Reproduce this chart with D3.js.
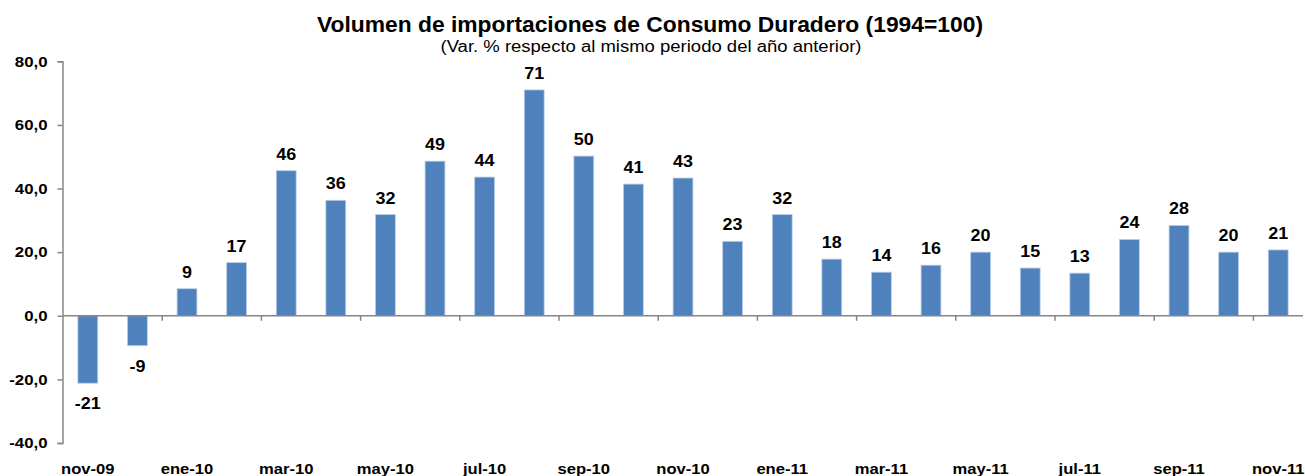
<!DOCTYPE html>
<html>
<head>
<meta charset="utf-8">
<script src="https://cdn.jsdelivr.net/npm/d3@7"></script>
<style>
  body { margin: 0; background: #fff; }
  text { font-family: "Liberation Sans", Arial, sans-serif; }
</style>
</head>
<body>
<svg id="chart"></svg>
<script>
// meses (nov-09 .. nov-11)
const months = ['nov-09','dic-09','ene-10','feb-10','mar-10','abr-10','may-10','jun-10','jul-10','ago-10',
    'sep-10','oct-10','nov-10','dic-10','ene-11','feb-11','mar-11','abr-11','may-11','jun-11',
    'jul-11','ago-11','sep-11','oct-11','nov-11']
// var. % interanual
const values = [-21.2, -9.4, 8.5, 16.7, 45.6, 36.3, 31.8, 48.6, 43.6, 71.0,
    50.2, 41.4, 43.3, 23.4, 31.8, 17.8, 13.7, 15.9, 20.0, 15.0,
    13.4, 24.0, 28.4, 20.0, 20.7]
const yTicks = [-40, -20, 0, 20, 40, 60, 80]

const width = 1305, height = 476
const plotLeft = 63, plotRight = 1303, plotTop = 61.3, plotBottom = 443

let svg = d3.select('#chart').attr('width', width).attr('height', height)

let x = d3.scaleBand()
    .domain(months)
    .range([plotLeft, plotRight])
    .paddingInner(0.6)
    .paddingOuter(0.3)

let y = d3.scaleLinear()
    .domain([-40, 80])
    .range([plotBottom, plotTop])

const axisColor = '#868686'

// el original esta un poco estirado en horizontal
function stretch(sel, k) {
    sel.each(function () {
        let w = this.getComputedTextLength()
        d3.select(this).attr('textLength', w * k).attr('lengthAdjust', 'spacingAndGlyphs')
    })
}

// titulo
svg.append('text')
    .attr('x', 650).attr('y', 32)
    .attr('text-anchor', 'middle')
    .style('font-weight', 'bold')
    .style('font-size', '22px')
    .attr('textLength', 666).attr('lengthAdjust', 'spacingAndGlyphs')
    .text('Volumen de importaciones de Consumo Duradero (1994=100)')

svg.append('text')
    .attr('x', 651).attr('y', 51.5)
    .attr('text-anchor', 'middle')
    .style('font-size', '16px')
    .attr('textLength', 421).attr('lengthAdjust', 'spacingAndGlyphs')
    .text('(Var. % respecto al mismo periodo del año anterior)')

// eje y
let yAxis = svg.append('g')
    .attr('transform', 'translate(' + (plotLeft - 0.5) + ',0)')
    .call(d3.axisLeft(y).tickValues(yTicks).tickSize(5).tickPadding(10)
        .tickFormat(d => d.toFixed(1).replace('.', ',')))
yAxis.select('.domain').attr('stroke', axisColor).attr('stroke-width', 1.5)
yAxis.selectAll('.tick line').attr('stroke', axisColor).attr('stroke-width', 1.5)
yAxis.selectAll('.tick text')
    .style('font-size', '15px').style('font-weight', 'bold')
    .style('font-family', '"Liberation Sans", Arial, sans-serif')
    .attr('fill', '#000')
    .call(stretch, 1.12)

// barras
svg.append('g')
    .selectAll('rect')
    .data(values)
    .enter().append('rect')
    .attr('x', (d, i) => x(months[i]))
    .attr('width', x.bandwidth())
    .attr('y', d => Math.min(y(d), y(0)))
    .attr('height', d => Math.abs(y(d) - y(0)))
    .attr('fill', '#4F81BD')
    .attr('stroke', '#B9CDE5')
    .attr('stroke-width', 0.8)

// eje x en cero
svg.append('line')
    .attr('x1', plotLeft - 0.5).attr('x2', plotRight)
    .attr('y1', y(0)).attr('y2', y(0))
    .attr('stroke', axisColor).attr('stroke-width', 1.5)

let boundaries = d3.range(2, months.length, 2)
svg.append('g')
    .selectAll('line')
    .data(boundaries)
    .enter().append('line')
    .attr('x1', k => x(months[k]) - x.step() * x.paddingInner() / 2)
    .attr('x2', k => x(months[k]) - x.step() * x.paddingInner() / 2)
    .attr('y1', y(0)).attr('y2', y(0) + 5)
    .attr('stroke', axisColor).attr('stroke-width', 1.5)

// etiquetas del eje x (cada dos meses)
let xAxis = svg.append('g')
    .attr('transform', 'translate(0,' + 463 + ')')
    .call(d3.axisBottom(x).tickValues(months.filter((m, i) => i % 2 === 0)).tickSize(0).tickPadding(0))
xAxis.select('.domain').remove()
xAxis.selectAll('.tick text')
    .style('font-size', '15.5px').style('font-weight', 'bold')
    .style('font-family', '"Liberation Sans", Arial, sans-serif')
    .attr('fill', '#000')
    .call(stretch, 1.07)

// etiquetas de datos
svg.append('g')
    .selectAll('text')
    .data(values)
    .enter().append('text')
    .attr('x', (d, i) => x(months[i]) + x.bandwidth() / 2)
    .attr('y', d => d >= 0 ? y(d) - 11 : y(d) + 26)
    .attr('text-anchor', 'middle')
    .style('font-size', '16px')
    .style('font-weight', 'bold')
    .text(d => Math.round(d))
    .call(stretch, 1.12)
</script>
</body>
</html>
